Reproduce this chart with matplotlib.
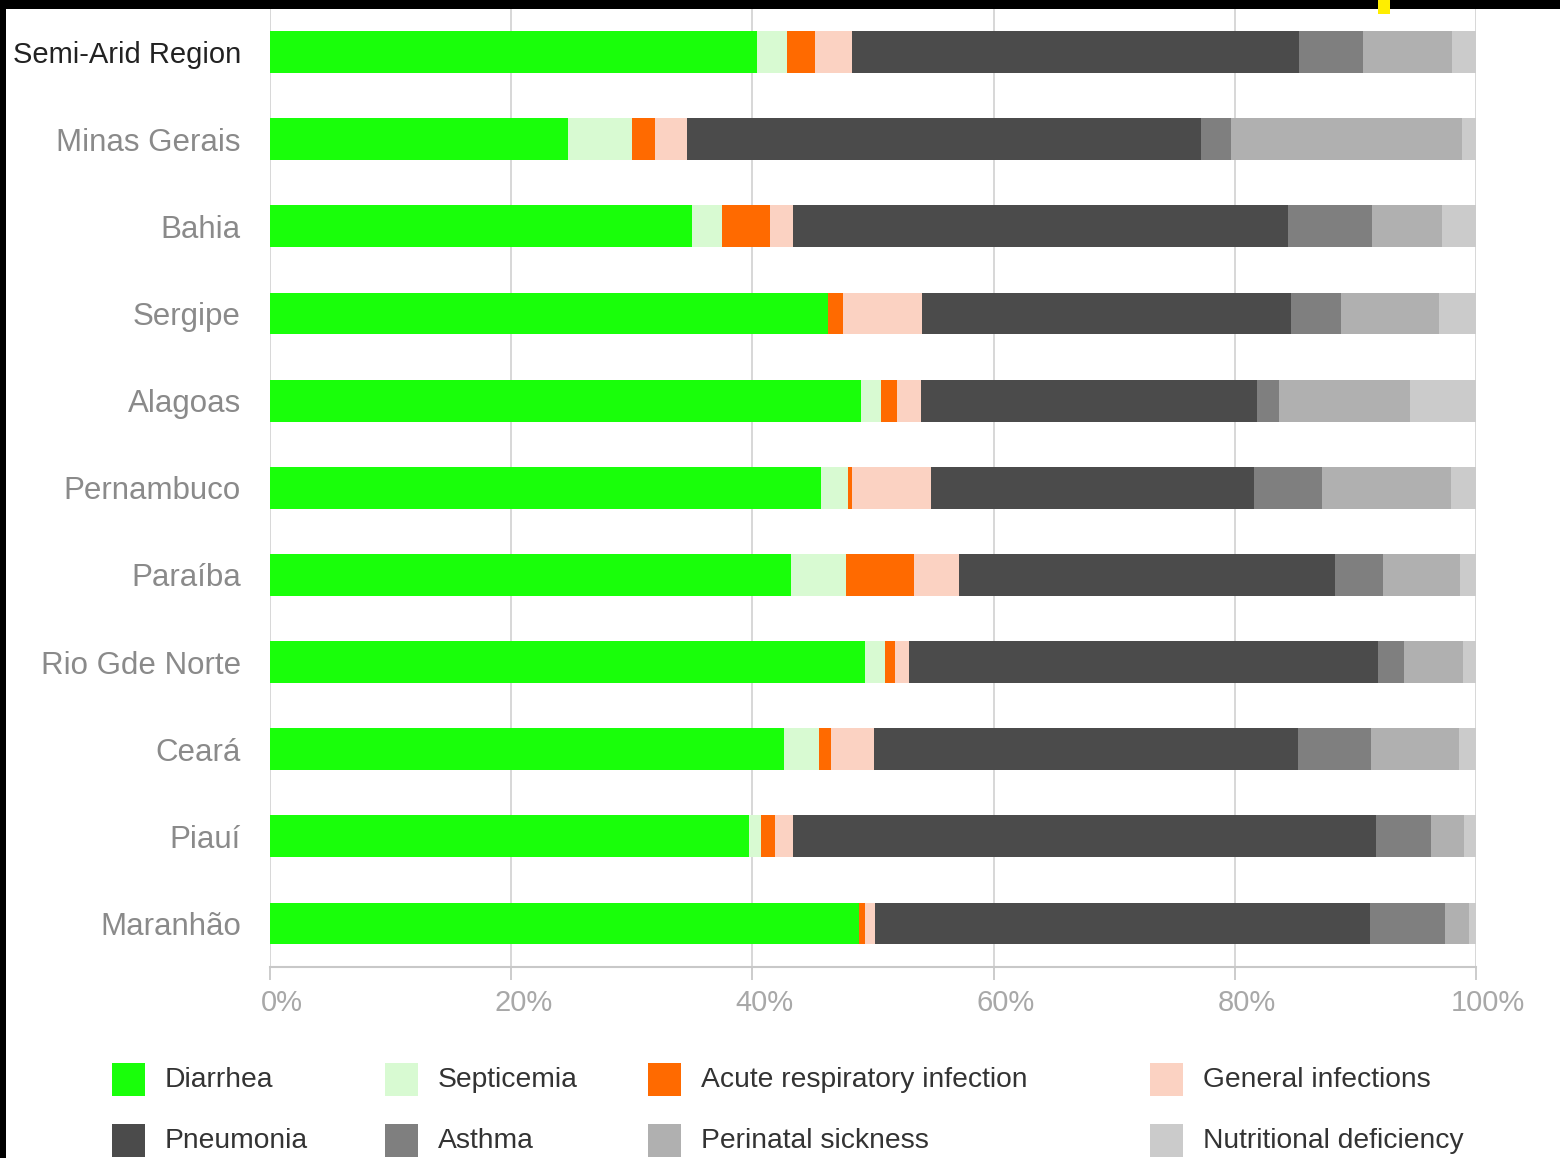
import numpy as np
import matplotlib
matplotlib.use("Agg")
import matplotlib.pyplot as plt
from matplotlib.patches import Rectangle
from matplotlib.transforms import ScaledTranslation

plt.rcParams['font.family'] = ['Liberation Sans', 'DejaVu Sans']

regions = ["Semi-Arid Region", "Minas Gerais", "Bahia", "Sergipe", "Alagoas",
           "Pernambuco", "Paraíba", "Rio Gde Norte", "Ceará", "Piauí", "Maranhão"]

# share of hospital admissions per cause (%)
diarrhea    = [40.4, 24.7, 35.0, 46.3, 49.0, 45.7, 43.2, 49.3, 42.6, 39.7, 48.8]
septicemia  = [2.5, 5.3, 2.5, 0.0, 1.7, 2.2, 4.6, 1.7, 2.9, 1.0, 0.0]
acute_resp  = [2.3, 1.9, 4.0, 1.2, 1.3, 0.4, 5.6, 0.8, 1.0, 1.2, 0.5]
general_inf = [3.1, 2.7, 1.9, 6.6, 2.0, 6.5, 3.7, 1.2, 3.6, 1.5, 0.9]
pneumonia   = [37.0, 42.6, 41.0, 30.6, 27.8, 26.8, 31.2, 38.9, 35.1, 48.3, 41.0]
asthma      = [5.3, 2.5, 7.0, 4.1, 1.9, 5.6, 4.0, 2.1, 6.1, 4.6, 6.2]
perinatal   = [7.4, 19.1, 5.8, 8.1, 10.8, 10.7, 6.4, 4.9, 7.3, 2.7, 2.0]
nutritional = [2.0, 1.2, 2.8, 3.1, 5.5, 2.1, 1.3, 1.1, 1.4, 1.0, 0.6]

causes = ["Diarrhea", "Septicemia", "Acute respiratory infection", "General infections",
          "Pneumonia", "Asthma", "Perinatal sickness", "Nutritional deficiency"]
series = [diarrhea, septicemia, acute_resp, general_inf,
          pneumonia, asthma, perinatal, nutritional]
colors = ["#19ff0a", "#d8fad2", "#ff6a00", "#fbd2c2",
          "#4b4b4b", "#7f7f7f", "#b0b0b0", "#cbcbcb"]

xticks = [0, 20, 40, 60, 80, 100]
xtick_labels = ["0%", "20%", "40%", "60%", "80%", "100%"]

W, H = 1560, 1158
fig = plt.figure(figsize=(W / 100, H / 100), dpi=100)
fig.patch.set_facecolor("white")
ax = fig.add_axes([270 / W, 1 - 967 / H, 1206 / W, (967 - 8.5) / H])

y = np.arange(len(regions))
left = np.zeros(len(regions))
for name, vals, c in zip(causes, series, colors):
    ax.barh(y, vals, left=left, height=0.48, color=c, linewidth=0, zorder=3)
    left += np.array(vals)

ax.set_xlim(0, 100)
ax.set_ylim(len(regions) - 0.5, -0.5)

# grid and frame
for gx in xticks:
    ax.axvline(gx, color="#d4d4d4", lw=1.3, zorder=1)
for s in ["top", "left", "right"]:
    ax.spines[s].set_visible(False)
ax.spines["bottom"].set_color("#c8c8c8")
ax.spines["bottom"].set_linewidth(1.5)

ax.set_xticks(xticks)
ax.set_xticklabels(xtick_labels, fontsize=21, color="#a8a8a8")
ax.tick_params(axis="x", length=9, width=1.3, color="#c8c8c8", pad=7)
for lab in ax.get_xticklabels():
    lab.set_transform(lab.get_transform() + ScaledTranslation(12 / 100, 0, fig.dpi_scale_trans))

ax.set_yticks(y)
ax.set_yticklabels(regions, fontsize=22.5, color="#8a8a8a")
ax.tick_params(axis="y", length=0, pad=21)
first = ax.get_yticklabels()[0]
first.set_color("#222222")
first.set_fontsize(21)

# legend, drawn by hand to match the uneven column spacing
col_x = [112, 385, 648, 1150]
row_y = [1080, 1141]
for i, (name, c) in enumerate(zip(causes, colors)):
    r, k = divmod(i, 4)
    px, py = col_x[k], row_y[r]
    fig.add_artist(Rectangle((px / W, 1 - (py + 16) / H), 33 / W, 33 / H,
                             transform=fig.transFigure, color=c, lw=0))
    fig.text((px + 53) / W, 1 - py / H, name, fontsize=20.3, color="#333333",
             ha="left", va="center")

# black frame edges of the screenshot
fig.add_artist(Rectangle((0, 1 - 9 / H), 1, 9 / H, transform=fig.transFigure,
                         color="black", lw=0, zorder=20))
fig.add_artist(Rectangle((0, 0), 6 / W, 1, transform=fig.transFigure,
                         color="black", lw=0, zorder=20))
fig.add_artist(Rectangle((1378 / W, 1 - 14 / H), 12 / W, 14 / H, transform=fig.transFigure,
                         color="#ffee00", lw=0, zorder=21))

fig.savefig("out.png", dpi=100)
